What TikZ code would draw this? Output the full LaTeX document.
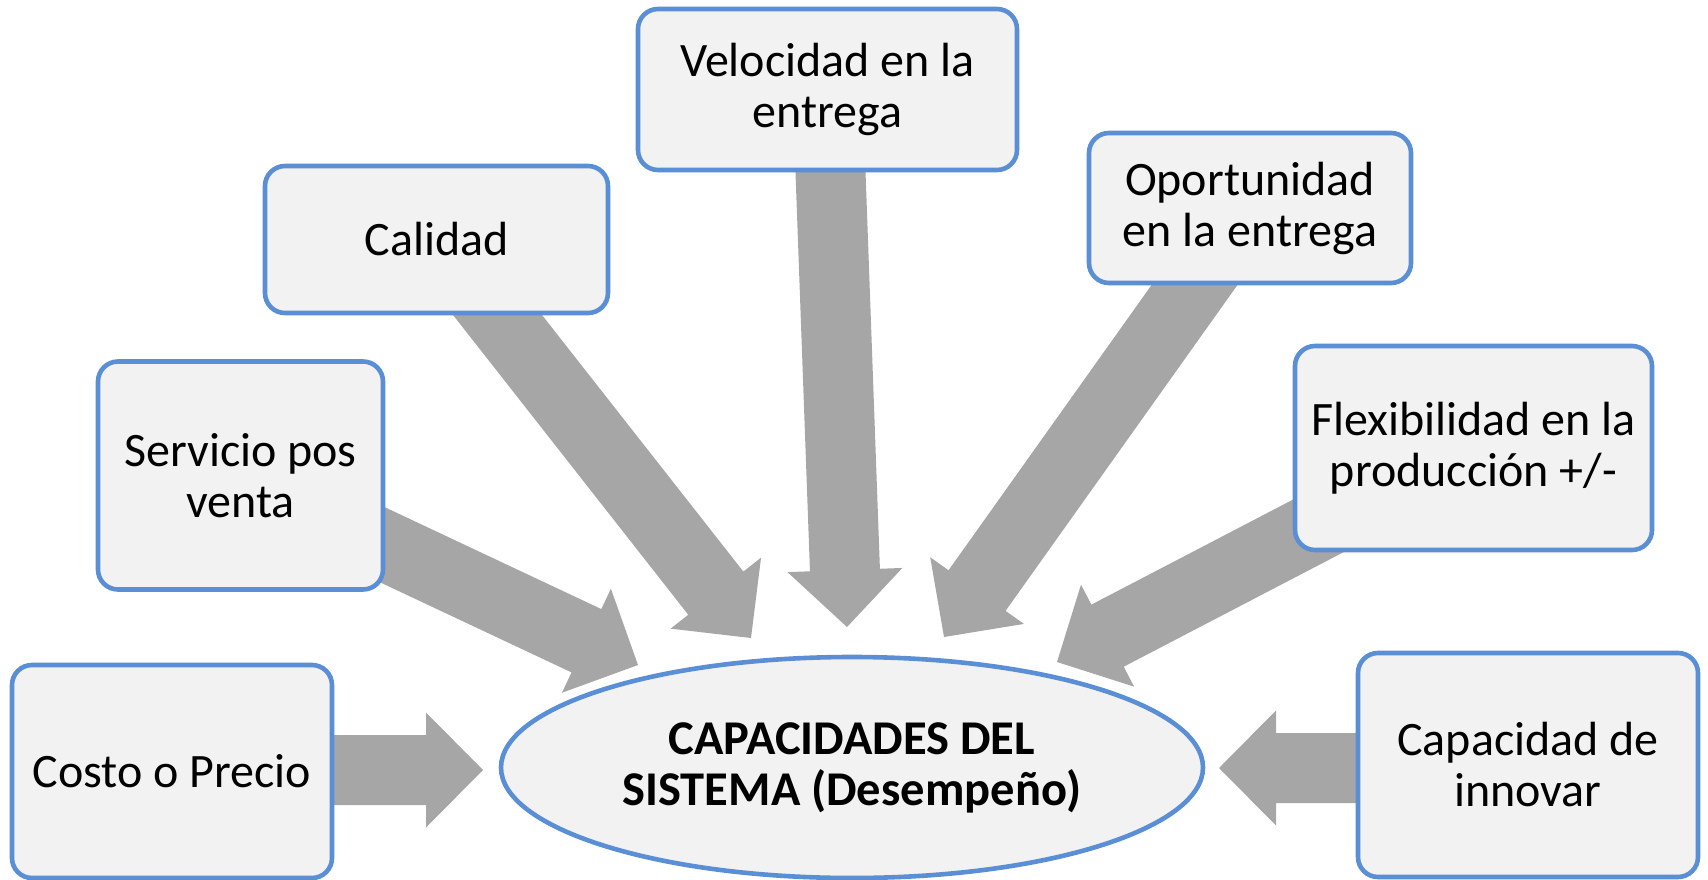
\documentclass[tikz,border=0pt]{standalone}
\usepackage{fontspec}
\setmainfont{Carlito}
\usetikzlibrary{calc,shapes.geometric}
\definecolor{boxblue}{HTML}{5B8FD5}
\definecolor{boxfill}{HTML}{F2F2F2}
\definecolor{arrgray}{HTML}{A6A6A6}
\newcommand\blockarrow[2]{%
  \coordinate (#2-b) at ($(#2)!57pt!(#1)$);
  \fill[arrgray] (#2)
    -- ($(#2-b)!57.5pt!90:(#2)$)
    -- ($(#2-b)!35pt!90:(#2)$)
    -- ($(#1)!35pt!90:(#2)$)
    -- ($(#1)!35pt!-90:(#2)$)
    -- ($(#2-b)!35pt!-90:(#2)$)
    -- ($(#2-b)!57.5pt!-90:(#2)$)
    -- cycle;}
\begin{document}
\begin{tikzpicture}[x=1pt,y=-1pt,
  boxnode/.style={draw=boxblue,line width=4.6pt,fill=boxfill,rounded corners=20pt,
    align=center,inner sep=0pt,font=\fontsize{48}{51}\selectfont},
  mainnode/.style={ellipse,draw=boxblue,line width=4.6pt,fill=boxfill,inner sep=0pt,
    align=center,minimum width=702pt,minimum height=221pt,
    font=\bfseries\fontsize{48.5}{51}\selectfont}]
\useasboundingbox (0,0) rectangle (1708,880);
% arrow tails and tips
\coordinate (s1) at (300,770);    \coordinate (t1) at (483,770);
\coordinate (s2) at (1390,768);   \coordinate (t2) at (1219,768);
\coordinate (s3) at (829.7,150);  \coordinate (t3) at (847,627);
\coordinate (s4) at (472.8,283.5);\coordinate (t4) at (751,638);
\coordinate (s5) at (346.8,528);  \coordinate (t5) at (638,665);
\coordinate (s6) at (1217.7,252.4);\coordinate (t6) at (944,637);
\coordinate (s7) at (1330.5,519.5);\coordinate (t7) at (1057,662);
\blockarrow{s1}{t1}
\blockarrow{s2}{t2}
\blockarrow{s3}{t3}
\blockarrow{s4}{t4}
\blockarrow{s5}{t5}
\blockarrow{s6}{t6}
\blockarrow{s7}{t7}
% boxes
\node[boxnode,minimum width=320pt,minimum height=213pt] (costo) at (172,771.5) {Costo o Precio};
\node[boxnode,minimum width=285pt,minimum height=228pt] (serv) at (240.5,475.5) {Servicio pos\\venta};
\node[boxnode,minimum width=343pt,minimum height=147pt] (cal) at (436.5,239.5) {Calidad};
\node[boxnode,minimum width=379pt,minimum height=161pt] (vel) at (827.5,89.5) {Velocidad en la\\entrega};
\node[boxnode,minimum width=322pt,minimum height=150pt] (opo) at (1250,208) {Oportunidad\\en la entrega};
\node[boxnode,minimum width=357pt,minimum height=204pt] (flex) at (1473.5,448) {Flexibilidad en la\\producción +/-};
\node[boxnode,minimum width=340pt,minimum height=224pt] (inno) at (1528,765) {Capacidad de\\innovar};
\node[mainnode] (main) at (852,767.5) {CAPACIDADES DEL\\SISTEMA (Desempeño)};
\end{tikzpicture}
\end{document}
